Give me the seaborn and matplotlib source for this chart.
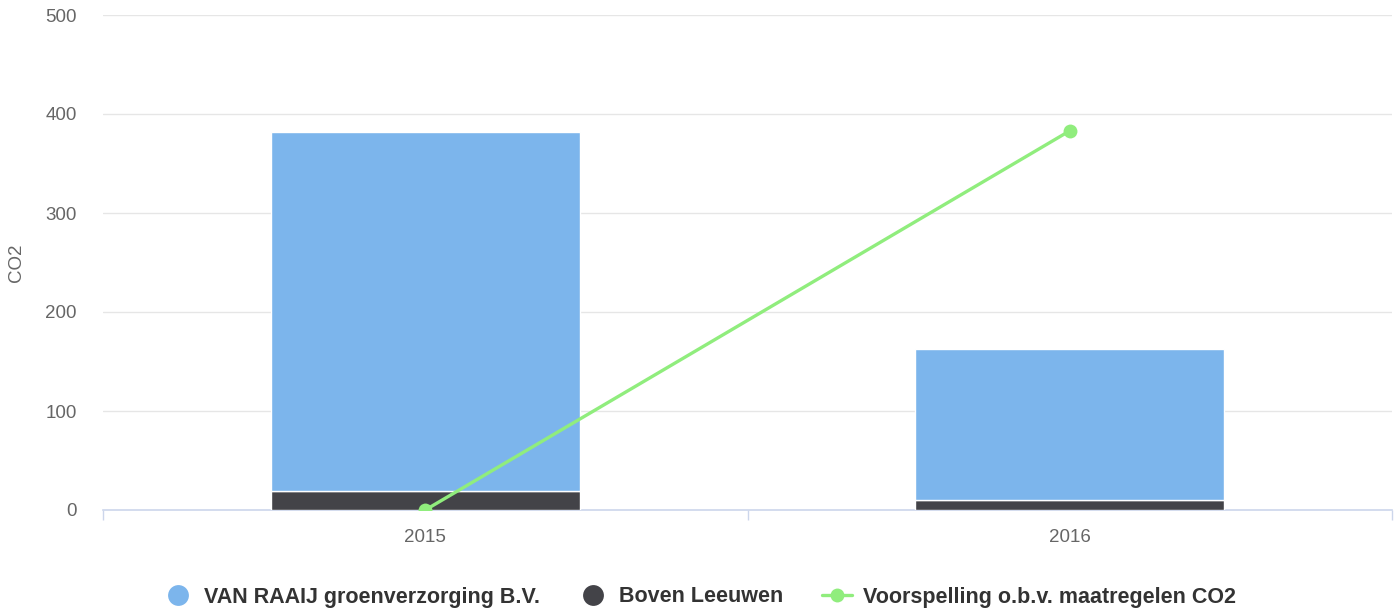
import matplotlib
matplotlib.use("Agg")
import matplotlib.pyplot as plt
from matplotlib import font_manager
from matplotlib.lines import Line2D
import seaborn as sns
import numpy as np

categories = ["2015", "2016"]
van_raaij = [363, 153]
boven_leeuwen = [19, 10]
voorspelling = [0, 383]

series_names = ["VAN RAAIJ groenverzorging B.V.", "Boven Leeuwen", "Voorspelling o.b.v. maatregelen CO2"]
colors = ["#7cb5ec", "#434348", "#90ed7d"]
y_ticks = [0, 100, 200, 300, 400, 500]

sns.set_theme(style="white")
names = {f.name for f in font_manager.fontManager.ttflist}
fam = "Liberation Sans Narrow" if "Liberation Sans Narrow" in names else "Liberation Sans"
plt.rcParams["font.family"] = [fam, "DejaVu Sans"]

fig = plt.figure(figsize=(13.99, 6.12), dpi=100)
ax = fig.add_axes([103/1399, 1-510/612, (1392-103)/1399, (510-15)/612])

x = np.arange(len(categories))
ax.bar(x, boven_leeuwen, width=0.48, color=colors[1], edgecolor="white", linewidth=1, zorder=2)
ax.bar(x, van_raaij, width=0.48, bottom=boven_leeuwen, color=colors[0], edgecolor="white", linewidth=1, zorder=2)
sns.lineplot(x=x, y=voorspelling, ax=ax, color=colors[2], linewidth=2.4, marker="o",
             markersize=10, markeredgewidth=0, zorder=3)

ax.set_xlim(-0.5, 1.5)
ax.set_ylim(0, 500)
ax.set_yticks(y_ticks)
ax.set_yticklabels([str(v) for v in y_ticks])
ax.set_xticks(x)
ax.set_xticklabels(categories)
ax.set_xticks([-0.5, 0.5, 1.5], minor=True)
ax.tick_params(axis="x", which="major", bottom=True, length=0, pad=14, labelsize=13.5, labelcolor="#666666")
ax.tick_params(axis="x", which="minor", bottom=True, length=7.5, width=1, color="#ccd6eb", direction="out")
ax.tick_params(axis="y", left=False, length=0, pad=19, labelsize=13.5, labelcolor="#666666")
for lab in ax.get_yticklabels():
    lab.set_horizontalalignment("right")

for v in y_ticks[1:]:
    ax.axhline(v, color="#e6e6e6", linewidth=1, zorder=1)

for s in ["top", "right", "left"]:
    ax.spines[s].set_visible(False)
ax.spines["bottom"].set_color("#ccd6eb")
ax.spines["bottom"].set_linewidth(1.2)
ax.spines["bottom"].set_zorder(1.5)

ax.set_ylabel("CO2", fontsize=13.5, color="#666666")
ax.yaxis.set_label_coords(-(103-25)/(1392-103), 0.5)
ax.set_xlabel("")

handles = [
    Line2D([0], [0], linestyle="none", marker="o", markersize=15, markerfacecolor=colors[0], markeredgewidth=0),
    Line2D([0], [0], linestyle="none", marker="o", markersize=15, markerfacecolor=colors[1], markeredgewidth=0),
    Line2D([0], [0], color=colors[2], linewidth=2.4, marker="o", markersize=10, markeredgewidth=0),
]
leg = fig.legend(handles, series_names, loc="center", bbox_to_anchor=(0.5, 1-597/612), ncol=3,
                 frameon=False, prop={"weight": "bold", "size": 15.5}, handlelength=1.4,
                 handletextpad=0.5, columnspacing=1.8, labelcolor="#333333")

fig.savefig("out.png", dpi=100)
